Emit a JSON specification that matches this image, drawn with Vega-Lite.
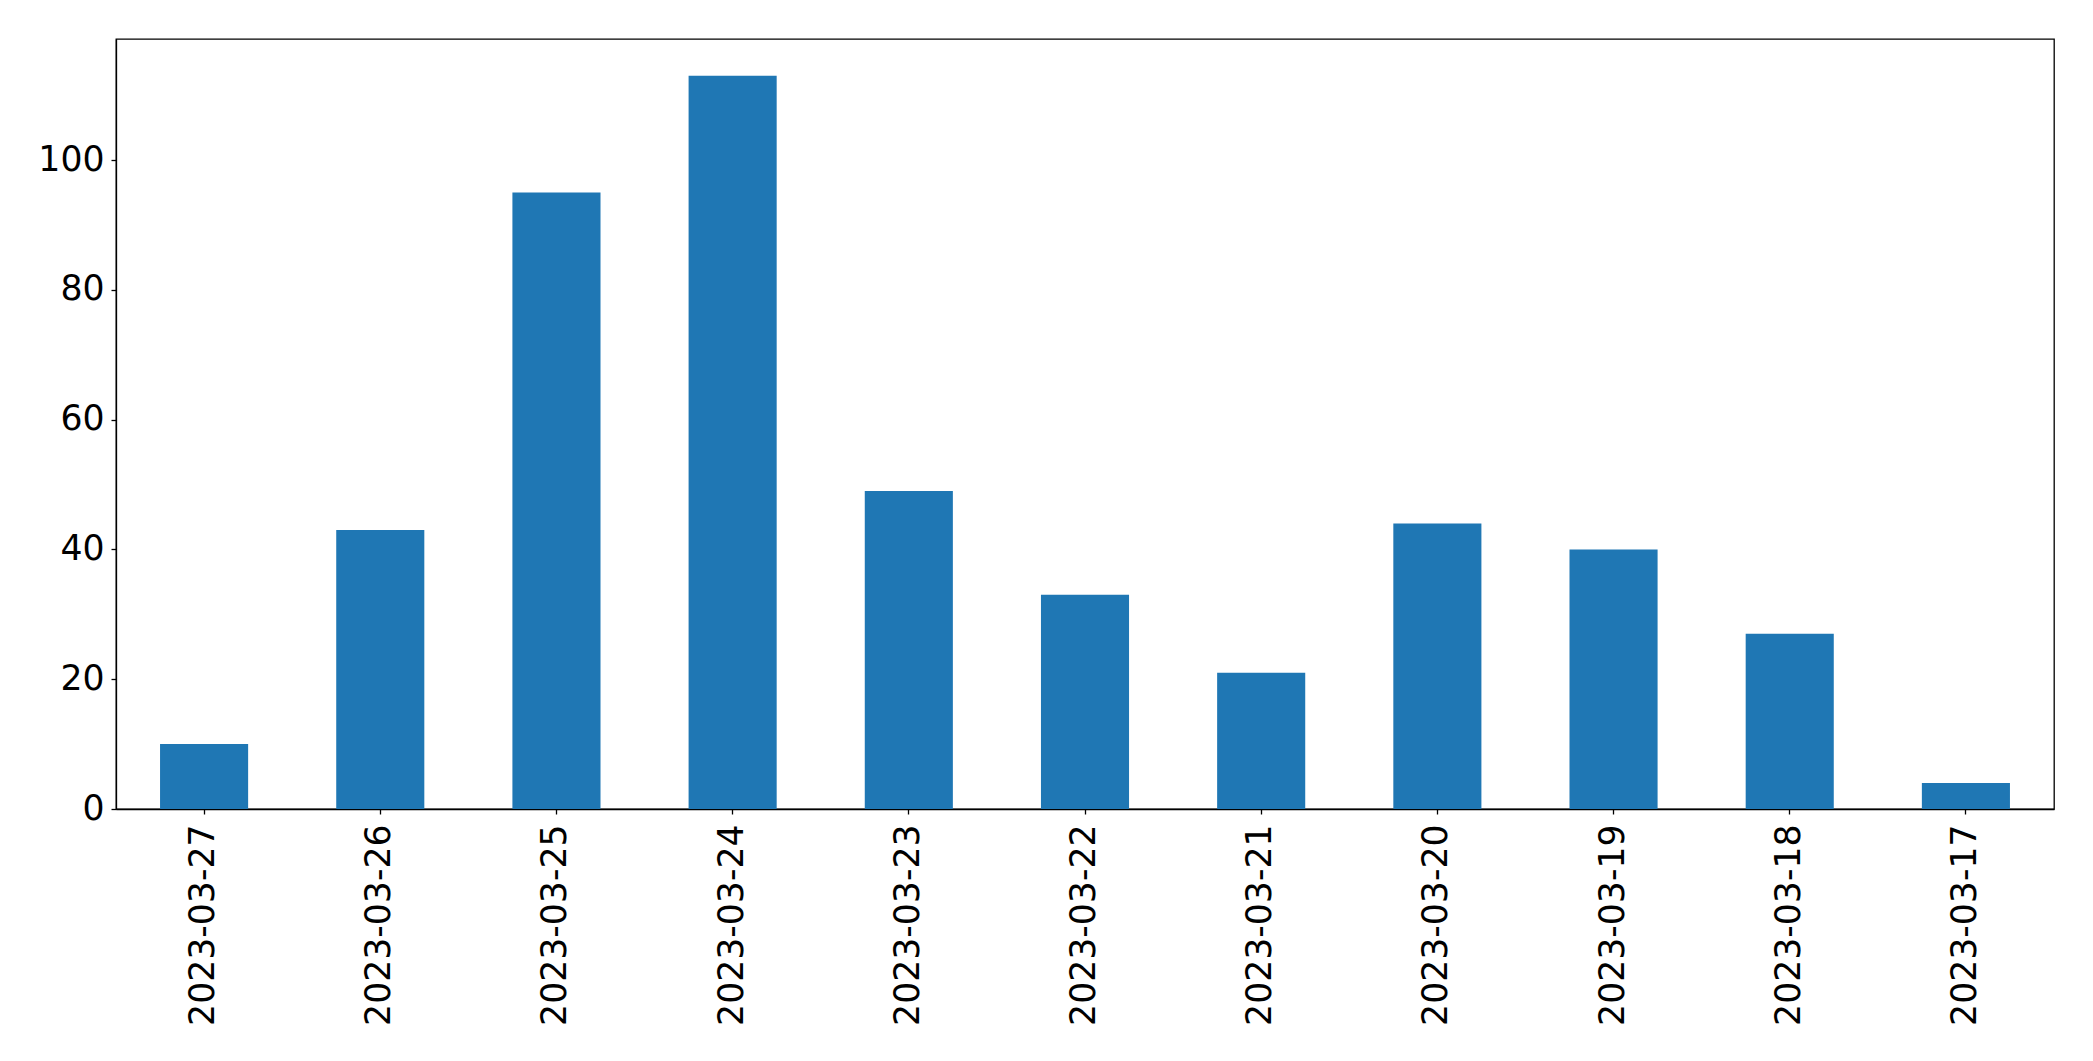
{
  "$schema": "https://vega.github.io/schema/vega-lite/v6.json",
  "width": 1938,
  "height": 770,
  "autosize": {"type": "none"},
  "padding": {"left": 116, "top": 39, "right": 39, "bottom": 252},
  "background": "white",
  "config": {
    "view": {"stroke": "black", "strokeWidth": 1.3},
    "font": "DejaVu Sans",
    "axis": {
      "labelFont": "DejaVu Sans",
      "labelFontSize": 34.67,
      "labelColor": "black",
      "labelLimit": 0,
      "domainColor": "black",
      "domainWidth": 1.3,
      "tickColor": "black",
      "tickWidth": 1.3,
      "tickSize": 5,
      "grid": false,
      "title": null
    }
  },
  "data": {
    "values": [
      {"date": "2023-03-27", "count": 10},
      {"date": "2023-03-26", "count": 43},
      {"date": "2023-03-25", "count": 95},
      {"date": "2023-03-24", "count": 113},
      {"date": "2023-03-23", "count": 49},
      {"date": "2023-03-22", "count": 33},
      {"date": "2023-03-21", "count": 21},
      {"date": "2023-03-20", "count": 44},
      {"date": "2023-03-19", "count": 40},
      {"date": "2023-03-18", "count": 27},
      {"date": "2023-03-17", "count": 4}
    ]
  },
  "mark": {"type": "bar", "color": "#1f77b4"},
  "encoding": {
    "x": {
      "field": "date",
      "type": "nominal",
      "sort": null,
      "scale": {"paddingInner": 0.5, "paddingOuter": 0.25},
      "axis": {"labelAngle": 270, "labelAlign": "right", "labelBaseline": "middle", "labelPadding": 10}
    },
    "y": {
      "field": "count",
      "type": "quantitative",
      "scale": {"domain": [0, 118.65], "nice": false},
      "axis": {"values": [0, 20, 40, 60, 80, 100], "labelPadding": 7}
    }
  }
}
